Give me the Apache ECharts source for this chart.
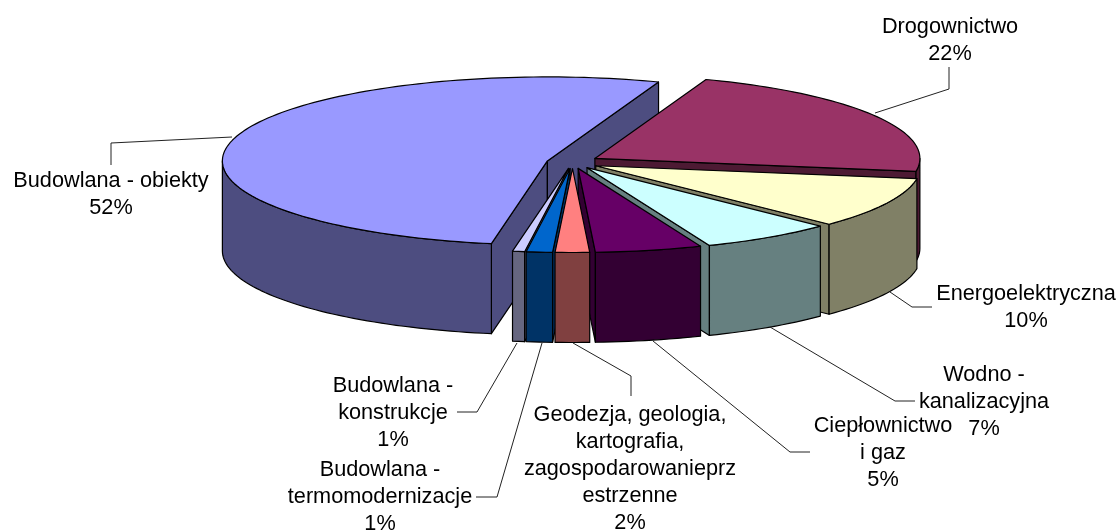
<!DOCTYPE html>
<html>
<head>
<meta charset="utf-8">
<title>Pie</title>
<style>
  html, body { margin: 0; padding: 0; background: #fff; }
  #chart { width: 1118px; height: 531px; }
</style>
<script src="https://cdn.jsdelivr.net/npm/echarts@6/dist/echarts.min.js"></script>
</head>
<body>
<div id="chart"></div>
<script>
// clockwise from the first slice, shares
const categories = ['Drogownictwo', 'Energoelektryczna', 'Wodno - kanalizacyjna', 'Ciepłownictwo i gaz',
  'Geodezja, geologia, kartografia, zagospodarowanieprzestrzenne', 'Budowlana - termomodernizacje',
  'Budowlana - konstrukcje', 'Budowlana - obiekty'];
const values = [21.9, 9.8, 6.6, 5.3, 1.7, 1.3, 0.6, 52.8];
const percentLabels = ['22%', '10%', '7%', '5%', '2%', '1%', '1%', '52%'];
const labelLines = [
  ['Drogownictwo'],
  ['Energoelektryczna'],
  ['Wodno -', 'kanalizacyjna'],
  ['Ciepłownictwo', 'i gaz'],
  ['Geodezja, geologia,', 'kartografia,', 'zagospodarowanieprz', 'estrzenne'],
  ['Budowlana -', 'termomodernizacje'],
  ['Budowlana -', 'konstrukcje'],
  ['Budowlana - obiekty']
];
const topColors = ['#993366', '#FFFFCC', '#CCFFFF', '#660066', '#FF8080', '#0066CC', '#CCCCFF', '#9999FF'];
const wallColors = ['#4D1A33', '#808066', '#668080', '#330033', '#804040', '#003366', '#666680', '#4D4D80'];

// painter's order, back slices first
const drawOrder = [7, 0, 1, 2, 6, 5, 3, 4];

// projection of the pie
const startAngle = 20;
const centerX = 572.5, centerY = 163.5;
const radiusX = 325, radiusY = 84, depth = 90;
const explodeX = 26, explodeUp = 10, explodeDown = 5;

// label centres and leader lines, same order as categories
const labelPos = [[950, 41], [1026, 308], [984, 402], [883, 453.5], [630, 469], [380, 497.5], [393, 413], [111, 195]];
const leaders = [
  [[875, 113], [949, 89], [949, 67]],
  [[890, 292], [912, 307], [932, 307]],
  [[770, 327], [895, 401], [915, 401]],
  [[653, 341], [790, 452], [810, 452]],
  [[573, 343], [631, 376], [631, 396]],
  [[542, 343], [497, 497], [476, 497]],
  [[517, 343], [477, 412], [457, 412]],
  [[232, 137], [111, 143], [111, 165]]
];

const total = values.reduce((a, b) => a + b, 0);
let cumulative = 0;
const slices = values.map((v, i) => {
  const row = { from: cumulative, to: cumulative + v };
  cumulative += v;
  return row;
});
const seriesData = drawOrder.map(i => ({ name: categories[i], value: [i, slices[i].from, slices[i].to] }));

function toAngle(v) {
  return echarts.number.linearMap(v, [0, total], [startAngle, startAngle + 360]);
}

function rim(cx, cy, deg) {
  const a = deg * Math.PI / 180;
  return [cx + radiusX * Math.sin(a), cy - radiusY * Math.cos(a)];
}

function arc(cx, cy, from, to) {
  const pts = [];
  const steps = Math.max(2, Math.ceil((to - from) / 1.5));
  for (let s = 0; s <= steps; s++) {
    pts.push(rim(cx, cy, from + (to - from) * s / steps));
  }
  return pts;
}

function drop(p) {
  return [p[0], p[1] + depth];
}

function renderSlice(params, api) {
  const i = api.value(0);
  const from = toAngle(api.value(1));
  const to = toAngle(api.value(2));
  const mid = (from + to) / 2 * Math.PI / 180;
  const dirY = -Math.cos(mid);
  const cx = centerX + explodeX * Math.sin(mid);
  const cy = centerY + dirY * (dirY < 0 ? explodeUp : explodeDown);
  const apex = [cx, cy];
  const children = [];
  const rank = drawOrder.indexOf(i) * 10;

  function face(points, color, z) {
    children.push({
      type: 'polygon',
      z2: rank + z,
      shape: { points: points },
      style: { fill: color, stroke: '#000', lineWidth: 1.2, lineJoin: 'round' }
    });
  }

  // flat side on the cut, only when it looks towards the viewer
  if (Math.sin(from * Math.PI / 180) < 0) {
    const p = rim(cx, cy, from);
    face([apex, p, drop(p), drop(apex)], wallColors[i], 0);
  }
  if (Math.sin(to * Math.PI / 180) > 0) {
    const p = rim(cx, cy, to);
    face([apex, p, drop(p), drop(apex)], wallColors[i], 0);
  }

  // outer wall, front half of the ellipse only
  const wallFrom = Math.max(from, 90);
  const wallTo = Math.min(to, 270);
  if (wallTo > wallFrom) {
    const upper = arc(cx, cy, wallFrom, wallTo);
    face(upper.concat(upper.map(drop).reverse()), wallColors[i], 1);
  }

  face([apex].concat(arc(cx, cy, from, to)), topColors[i], 2);
  return { type: 'group', children: children };
}

const graphics = [];
categories.forEach((name, i) => {
  graphics.push({
    type: 'polyline',
    silent: true,
    z: 5,
    shape: { points: leaders[i] },
    style: { fill: null, stroke: '#222', lineWidth: 1 }
  });
  graphics.push({
    type: 'text',
    silent: true,
    z: 6,
    x: labelPos[i][0],
    y: labelPos[i][1],
    style: {
      text: labelLines[i].concat(percentLabels[i]).join('\n'),
      font: '21.7px "Liberation Sans", Arial, sans-serif',
      lineHeight: 27,
      fill: '#000',
      align: 'center',
      verticalAlign: 'middle'
    }
  });
});

const chart = echarts.init(document.getElementById('chart'));
chart.setOption({
  animation: false,
  backgroundColor: '#fff',
  series: [{
    type: 'custom',
    coordinateSystem: 'none',
    silent: true,
    renderItem: renderSlice,
    data: seriesData
  }],
  graphic: graphics
});
</script>
</body>
</html>
